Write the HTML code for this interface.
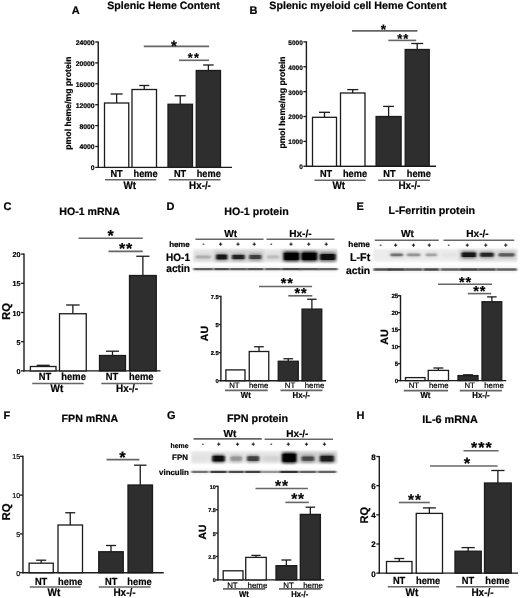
<!DOCTYPE html>
<html><head><meta charset="utf-8"><style>
html,body{margin:0;padding:0;background:#fff;}
svg{display:block;font-family:"Liberation Sans", sans-serif;text-rendering:geometricPrecision;}
text{stroke:#000;stroke-width:0.2px;}
</style></head><body>
<svg width="520" height="598" viewBox="0 0 520 598">
<defs>
<filter id="bf" x="-30%" y="-100%" width="160%" height="300%"><feGaussianBlur stdDeviation="0.9 0.7"/></filter>
<filter id="bt" x="-30%" y="-100%" width="160%" height="300%"><feGaussianBlur stdDeviation="0.9 0.55"/></filter>
<filter id="bh" x="-30%" y="-100%" width="160%" height="300%"><feGaussianBlur stdDeviation="1.6 1.2"/></filter>
<filter id="gb" x="0" y="0" width="100%" height="100%"><feGaussianBlur stdDeviation="0.45"/></filter>
<filter id="bb" x="-5%" y="-30%" width="110%" height="160%"><feGaussianBlur stdDeviation="1.0"/></filter>
</defs>
<g filter="url(#gb)">
<rect width="520" height="598" fill="#fff"/>
<line x1="98.25" y1="41.40" x2="98.25" y2="168.00" stroke="#1a1a1a" stroke-width="1.4"/>
<line x1="97.65" y1="167.40" x2="232.00" y2="167.40" stroke="#1a1a1a" stroke-width="1.4"/>
<line x1="95.25" y1="167.40" x2="98.25" y2="167.40" stroke="#1a1a1a" stroke-width="1.3"/>
<text x="94.65" y="170.35" font-size="6.8" text-anchor="end" font-weight="bold" fill="#000" >0</text>
<line x1="95.25" y1="146.50" x2="98.25" y2="146.50" stroke="#1a1a1a" stroke-width="1.3"/>
<text x="94.65" y="149.45" font-size="6.8" text-anchor="end" font-weight="bold" fill="#000" >4000</text>
<line x1="95.25" y1="125.60" x2="98.25" y2="125.60" stroke="#1a1a1a" stroke-width="1.3"/>
<text x="94.65" y="128.55" font-size="6.8" text-anchor="end" font-weight="bold" fill="#000" >8000</text>
<line x1="95.25" y1="104.70" x2="98.25" y2="104.70" stroke="#1a1a1a" stroke-width="1.3"/>
<text x="94.65" y="107.65" font-size="6.8" text-anchor="end" font-weight="bold" fill="#000" >12000</text>
<line x1="95.25" y1="83.80" x2="98.25" y2="83.80" stroke="#1a1a1a" stroke-width="1.3"/>
<text x="94.65" y="86.75" font-size="6.8" text-anchor="end" font-weight="bold" fill="#000" >16000</text>
<line x1="95.25" y1="62.90" x2="98.25" y2="62.90" stroke="#1a1a1a" stroke-width="1.3"/>
<text x="94.65" y="65.85" font-size="6.8" text-anchor="end" font-weight="bold" fill="#000" >20000</text>
<line x1="95.25" y1="42.00" x2="98.25" y2="42.00" stroke="#1a1a1a" stroke-width="1.3"/>
<text x="94.65" y="44.95" font-size="6.8" text-anchor="end" font-weight="bold" fill="#000" >24000</text>
<line x1="116.62" y1="94.00" x2="116.62" y2="103.00" stroke="#1a1a1a" stroke-width="1.3"/>
<line x1="110.62" y1="94.00" x2="122.62" y2="94.00" stroke="#1a1a1a" stroke-width="1.3"/>
<rect x="104.50" y="103.00" width="24.25" height="64.40" fill="#fff" stroke="#1a1a1a" stroke-width="1.3"/>
<line x1="144.25" y1="85.50" x2="144.25" y2="89.50" stroke="#1a1a1a" stroke-width="1.3"/>
<line x1="139.25" y1="85.50" x2="149.25" y2="85.50" stroke="#1a1a1a" stroke-width="1.3"/>
<rect x="132.00" y="89.50" width="24.50" height="77.90" fill="#fff" stroke="#1a1a1a" stroke-width="1.3"/>
<line x1="180.25" y1="95.75" x2="180.25" y2="104.25" stroke="#1a1a1a" stroke-width="1.3"/>
<line x1="174.75" y1="95.75" x2="185.75" y2="95.75" stroke="#1a1a1a" stroke-width="1.3"/>
<rect x="168.00" y="104.25" width="24.50" height="63.15" fill="#2e2e2e" stroke="#1a1a1a" stroke-width="1.3"/>
<line x1="208.38" y1="65.00" x2="208.38" y2="70.50" stroke="#1a1a1a" stroke-width="1.3"/>
<line x1="203.12" y1="65.00" x2="213.62" y2="65.00" stroke="#1a1a1a" stroke-width="1.3"/>
<rect x="196.25" y="70.50" width="24.25" height="96.90" fill="#2e2e2e" stroke="#1a1a1a" stroke-width="1.3"/>
<line x1="143.75" y1="46.40" x2="209.00" y2="46.40" stroke="#666" stroke-width="1.6"/>
<text x="173.90" y="51.30" font-size="15" text-anchor="middle" font-weight="bold" fill="#000" >*</text>
<line x1="179.00" y1="60.30" x2="209.00" y2="60.30" stroke="#666" stroke-width="1.6"/>
<text x="190.25" y="62.03" font-size="12.8" text-anchor="middle" font-weight="bold" fill="#000" >*</text>
<text x="196.45" y="62.03" font-size="12.8" text-anchor="middle" font-weight="bold" fill="#000" >*</text>
<text transform="translate(116.50 176.90) scale(1 1.1)" font-size="9.2" text-anchor="middle" font-weight="bold" fill="#000" >NT</text>
<text transform="translate(145.60 176.90) scale(1 1.1)" font-size="9.2" text-anchor="middle" font-weight="bold" fill="#000" >heme</text>
<text transform="translate(180.00 176.90) scale(1 1.1)" font-size="9.2" text-anchor="middle" font-weight="bold" fill="#000" >NT</text>
<text transform="translate(208.75 176.90) scale(1 1.1)" font-size="9.2" text-anchor="middle" font-weight="bold" fill="#000" >heme</text>
<line x1="105.00" y1="179.75" x2="156.25" y2="179.75" stroke="#666" stroke-width="1.6"/>
<line x1="168.75" y1="179.75" x2="220.50" y2="179.75" stroke="#666" stroke-width="1.6"/>
<text transform="translate(129.70 188.80) scale(1 1.1)" font-size="9.8" text-anchor="middle" font-weight="bold" fill="#000" >Wt</text>
<text transform="translate(200.00 188.80) scale(1 1.1)" font-size="9.8" text-anchor="middle" font-weight="bold" fill="#000" >Hx-/-</text>
<text x="71.00" y="103.10" font-size="8.7" text-anchor="middle" font-weight="bold" fill="#000" transform="rotate(-90 71.0 103.1)">pmol heme/mg protein</text>
<line x1="306.40" y1="41.30" x2="306.40" y2="166.90" stroke="#1a1a1a" stroke-width="1.4"/>
<line x1="305.80" y1="166.30" x2="436.00" y2="166.30" stroke="#1a1a1a" stroke-width="1.4"/>
<line x1="303.40" y1="166.30" x2="306.40" y2="166.30" stroke="#1a1a1a" stroke-width="1.3"/>
<text x="302.80" y="169.14" font-size="6.5" text-anchor="end" font-weight="bold" fill="#000" >0</text>
<line x1="303.40" y1="141.42" x2="306.40" y2="141.42" stroke="#1a1a1a" stroke-width="1.3"/>
<text x="302.80" y="144.26" font-size="6.5" text-anchor="end" font-weight="bold" fill="#000" >1000</text>
<line x1="303.40" y1="116.54" x2="306.40" y2="116.54" stroke="#1a1a1a" stroke-width="1.3"/>
<text x="302.80" y="119.38" font-size="6.5" text-anchor="end" font-weight="bold" fill="#000" >2000</text>
<line x1="303.40" y1="91.66" x2="306.40" y2="91.66" stroke="#1a1a1a" stroke-width="1.3"/>
<text x="302.80" y="94.50" font-size="6.5" text-anchor="end" font-weight="bold" fill="#000" >3000</text>
<line x1="303.40" y1="66.78" x2="306.40" y2="66.78" stroke="#1a1a1a" stroke-width="1.3"/>
<text x="302.80" y="69.62" font-size="6.5" text-anchor="end" font-weight="bold" fill="#000" >4000</text>
<line x1="303.40" y1="41.90" x2="306.40" y2="41.90" stroke="#1a1a1a" stroke-width="1.3"/>
<text x="302.80" y="44.74" font-size="6.5" text-anchor="end" font-weight="bold" fill="#000" >5000</text>
<line x1="324.50" y1="112.30" x2="324.50" y2="117.30" stroke="#1a1a1a" stroke-width="1.3"/>
<line x1="319.00" y1="112.30" x2="330.00" y2="112.30" stroke="#1a1a1a" stroke-width="1.3"/>
<rect x="312.50" y="117.30" width="24.00" height="49.00" fill="#fff" stroke="#1a1a1a" stroke-width="1.3"/>
<line x1="352.75" y1="89.60" x2="352.75" y2="93.00" stroke="#1a1a1a" stroke-width="1.3"/>
<line x1="347.25" y1="89.60" x2="358.25" y2="89.60" stroke="#1a1a1a" stroke-width="1.3"/>
<rect x="340.50" y="93.00" width="24.50" height="73.30" fill="#fff" stroke="#1a1a1a" stroke-width="1.3"/>
<line x1="388.60" y1="106.40" x2="388.60" y2="116.50" stroke="#1a1a1a" stroke-width="1.3"/>
<line x1="383.10" y1="106.40" x2="394.10" y2="106.40" stroke="#1a1a1a" stroke-width="1.3"/>
<rect x="376.10" y="116.50" width="25.00" height="49.80" fill="#2e2e2e" stroke="#1a1a1a" stroke-width="1.3"/>
<line x1="417.20" y1="43.50" x2="417.20" y2="49.50" stroke="#1a1a1a" stroke-width="1.3"/>
<line x1="411.20" y1="43.50" x2="423.20" y2="43.50" stroke="#1a1a1a" stroke-width="1.3"/>
<rect x="405.20" y="49.50" width="24.00" height="116.80" fill="#2e2e2e" stroke="#1a1a1a" stroke-width="1.3"/>
<line x1="352.00" y1="30.90" x2="417.40" y2="30.90" stroke="#666" stroke-width="1.6"/>
<text x="383.50" y="33.59" font-size="13.5" text-anchor="middle" font-weight="bold" fill="#000" >*</text>
<line x1="388.30" y1="40.40" x2="416.20" y2="40.40" stroke="#666" stroke-width="1.6"/>
<text x="399.75" y="42.93" font-size="13" text-anchor="middle" font-weight="bold" fill="#000" >*</text>
<text x="405.85" y="42.93" font-size="13" text-anchor="middle" font-weight="bold" fill="#000" >*</text>
<text transform="translate(326.00 176.80) scale(1 1.1)" font-size="9.2" text-anchor="middle" font-weight="bold" fill="#000" >NT</text>
<text transform="translate(355.00 176.80) scale(1 1.1)" font-size="9.2" text-anchor="middle" font-weight="bold" fill="#000" >heme</text>
<text transform="translate(389.40 176.80) scale(1 1.1)" font-size="9.2" text-anchor="middle" font-weight="bold" fill="#000" >NT</text>
<text transform="translate(418.80 176.80) scale(1 1.1)" font-size="9.2" text-anchor="middle" font-weight="bold" fill="#000" >heme</text>
<line x1="314.40" y1="180.20" x2="365.60" y2="180.20" stroke="#666" stroke-width="1.6"/>
<line x1="378.10" y1="180.20" x2="429.90" y2="180.20" stroke="#666" stroke-width="1.6"/>
<text transform="translate(338.75 189.40) scale(1 1.1)" font-size="9.9" text-anchor="middle" font-weight="bold" fill="#000" >Wt</text>
<text transform="translate(409.40 189.40) scale(1 1.1)" font-size="9.9" text-anchor="middle" font-weight="bold" fill="#000" >Hx-/-</text>
<text x="285.20" y="102.45" font-size="8.6" text-anchor="middle" font-weight="bold" fill="#000" transform="rotate(-90 285.2 102.45)">pmol heme/mg protein</text>
<line x1="24.00" y1="253.50" x2="24.00" y2="371.50" stroke="#1a1a1a" stroke-width="1.4"/>
<line x1="23.40" y1="370.90" x2="160.50" y2="370.90" stroke="#1a1a1a" stroke-width="1.4"/>
<line x1="21.00" y1="370.90" x2="24.00" y2="370.90" stroke="#1a1a1a" stroke-width="1.3"/>
<text x="20.40" y="373.99" font-size="7.2" text-anchor="end" font-weight="bold" fill="#000" >0</text>
<line x1="21.00" y1="341.70" x2="24.00" y2="341.70" stroke="#1a1a1a" stroke-width="1.3"/>
<text x="20.40" y="344.79" font-size="7.2" text-anchor="end" font-weight="bold" fill="#000" >5</text>
<line x1="21.00" y1="312.50" x2="24.00" y2="312.50" stroke="#1a1a1a" stroke-width="1.3"/>
<text x="20.40" y="315.59" font-size="7.2" text-anchor="end" font-weight="bold" fill="#000" >10</text>
<line x1="21.00" y1="283.30" x2="24.00" y2="283.30" stroke="#1a1a1a" stroke-width="1.3"/>
<text x="20.40" y="286.39" font-size="7.2" text-anchor="end" font-weight="bold" fill="#000" >15</text>
<line x1="21.00" y1="254.10" x2="24.00" y2="254.10" stroke="#1a1a1a" stroke-width="1.3"/>
<text x="20.40" y="257.19" font-size="7.2" text-anchor="end" font-weight="bold" fill="#000" >20</text>
<line x1="43.20" y1="365.30" x2="43.20" y2="366.50" stroke="#1a1a1a" stroke-width="1.3"/>
<line x1="36.70" y1="365.30" x2="49.70" y2="365.30" stroke="#1a1a1a" stroke-width="1.3"/>
<rect x="30.40" y="366.50" width="25.60" height="4.40" fill="#fff" stroke="#1a1a1a" stroke-width="1.3"/>
<line x1="72.88" y1="305.00" x2="72.88" y2="313.75" stroke="#1a1a1a" stroke-width="1.3"/>
<line x1="66.12" y1="305.00" x2="79.62" y2="305.00" stroke="#1a1a1a" stroke-width="1.3"/>
<rect x="59.50" y="313.75" width="26.75" height="57.15" fill="#fff" stroke="#1a1a1a" stroke-width="1.3"/>
<line x1="112.50" y1="351.20" x2="112.50" y2="355.50" stroke="#1a1a1a" stroke-width="1.3"/>
<line x1="106.00" y1="351.20" x2="119.00" y2="351.20" stroke="#1a1a1a" stroke-width="1.3"/>
<rect x="99.50" y="355.50" width="26.00" height="15.40" fill="#2e2e2e" stroke="#1a1a1a" stroke-width="1.3"/>
<line x1="142.88" y1="256.25" x2="142.88" y2="275.50" stroke="#1a1a1a" stroke-width="1.3"/>
<line x1="136.25" y1="256.25" x2="149.50" y2="256.25" stroke="#1a1a1a" stroke-width="1.3"/>
<rect x="129.50" y="275.50" width="26.75" height="95.40" fill="#2e2e2e" stroke="#1a1a1a" stroke-width="1.3"/>
<line x1="78.50" y1="238.30" x2="142.80" y2="238.30" stroke="#666" stroke-width="1.6"/>
<text x="110.70" y="241.36" font-size="16" text-anchor="middle" font-weight="bold" fill="#000" >*</text>
<line x1="108.50" y1="251.40" x2="142.80" y2="251.40" stroke="#666" stroke-width="1.6"/>
<text x="122.00" y="254.26" font-size="16" text-anchor="middle" font-weight="bold" fill="#000" >*</text>
<text x="129.00" y="254.26" font-size="16" text-anchor="middle" font-weight="bold" fill="#000" >*</text>
<text transform="translate(45.00 380.10) scale(1 1.1)" font-size="9.4" text-anchor="middle" font-weight="bold" fill="#000" >NT</text>
<text transform="translate(73.60 380.10) scale(1 1.1)" font-size="9.4" text-anchor="middle" font-weight="bold" fill="#000" >heme</text>
<text transform="translate(112.00 380.10) scale(1 1.1)" font-size="9.4" text-anchor="middle" font-weight="bold" fill="#000" >NT</text>
<text transform="translate(141.25 380.10) scale(1 1.1)" font-size="9.4" text-anchor="middle" font-weight="bold" fill="#000" >heme</text>
<line x1="32.25" y1="383.50" x2="83.75" y2="383.50" stroke="#666" stroke-width="1.6"/>
<line x1="101.25" y1="383.50" x2="152.50" y2="383.50" stroke="#666" stroke-width="1.6"/>
<text transform="translate(56.90 392.20) scale(1 1.1)" font-size="9.9" text-anchor="middle" font-weight="bold" fill="#000" >Wt</text>
<text transform="translate(127.00 392.20) scale(1 1.1)" font-size="9.9" text-anchor="middle" font-weight="bold" fill="#000" >Hx-/-</text>
<text x="10.40" y="311.40" font-size="11.4" text-anchor="middle" font-weight="bold" fill="#000" transform="rotate(-90 10.4 311.4)">RQ</text>
<line x1="220.90" y1="295.80" x2="220.90" y2="381.35" stroke="#1a1a1a" stroke-width="1.4"/>
<line x1="220.30" y1="380.75" x2="326.25" y2="380.75" stroke="#1a1a1a" stroke-width="1.4"/>
<line x1="218.40" y1="380.75" x2="220.90" y2="380.75" stroke="#1a1a1a" stroke-width="1.3"/>
<text x="218.60" y="383.30" font-size="5.7" text-anchor="end" font-weight="bold" fill="#000" >0</text>
<line x1="218.40" y1="352.63" x2="220.90" y2="352.63" stroke="#1a1a1a" stroke-width="1.3"/>
<text x="218.60" y="355.19" font-size="5.7" text-anchor="end" font-weight="bold" fill="#000" >2.5</text>
<line x1="218.40" y1="324.52" x2="220.90" y2="324.52" stroke="#1a1a1a" stroke-width="1.3"/>
<text x="218.60" y="327.07" font-size="5.7" text-anchor="end" font-weight="bold" fill="#000" >5</text>
<line x1="218.40" y1="296.40" x2="220.90" y2="296.40" stroke="#1a1a1a" stroke-width="1.3"/>
<text x="218.60" y="298.95" font-size="5.7" text-anchor="end" font-weight="bold" fill="#000" >7.5</text>
<rect x="225.90" y="369.90" width="19.10" height="10.85" fill="#fff" stroke="#1a1a1a" stroke-width="1.3"/>
<line x1="259.00" y1="346.75" x2="259.00" y2="351.50" stroke="#1a1a1a" stroke-width="1.3"/>
<line x1="254.25" y1="346.75" x2="263.75" y2="346.75" stroke="#1a1a1a" stroke-width="1.3"/>
<rect x="249.25" y="351.50" width="19.50" height="29.25" fill="#fff" stroke="#1a1a1a" stroke-width="1.3"/>
<line x1="288.25" y1="358.75" x2="288.25" y2="361.25" stroke="#1a1a1a" stroke-width="1.3"/>
<line x1="283.38" y1="358.75" x2="293.12" y2="358.75" stroke="#1a1a1a" stroke-width="1.3"/>
<rect x="278.25" y="361.25" width="20.00" height="19.50" fill="#2e2e2e" stroke="#1a1a1a" stroke-width="1.3"/>
<line x1="311.90" y1="299.25" x2="311.90" y2="309.10" stroke="#1a1a1a" stroke-width="1.3"/>
<line x1="307.15" y1="299.25" x2="316.65" y2="299.25" stroke="#1a1a1a" stroke-width="1.3"/>
<rect x="302.05" y="309.10" width="19.70" height="71.65" fill="#2e2e2e" stroke="#1a1a1a" stroke-width="1.3"/>
<line x1="259.00" y1="286.50" x2="312.10" y2="286.50" stroke="#666" stroke-width="1.6"/>
<text x="283.60" y="288.39" font-size="14.5" text-anchor="middle" font-weight="bold" fill="#000" >*</text>
<text x="290.10" y="288.39" font-size="14.5" text-anchor="middle" font-weight="bold" fill="#000" >*</text>
<line x1="288.30" y1="295.80" x2="312.30" y2="295.80" stroke="#666" stroke-width="1.6"/>
<text x="297.25" y="298.39" font-size="14.5" text-anchor="middle" font-weight="bold" fill="#000" >*</text>
<text x="303.75" y="298.39" font-size="14.5" text-anchor="middle" font-weight="bold" fill="#000" >*</text>
<text x="234.40" y="388.20" font-size="7.8" text-anchor="middle" font-weight="normal" fill="#000" >NT</text>
<text x="258.70" y="388.20" font-size="7.8" text-anchor="middle" font-weight="normal" fill="#000" >heme</text>
<text x="290.00" y="388.20" font-size="7.8" text-anchor="middle" font-weight="normal" fill="#000" >NT</text>
<text x="314.50" y="388.20" font-size="7.8" text-anchor="middle" font-weight="normal" fill="#000" >heme</text>
<line x1="225.00" y1="390.40" x2="267.75" y2="390.40" stroke="#666" stroke-width="1.6"/>
<line x1="280.50" y1="390.40" x2="322.50" y2="390.40" stroke="#666" stroke-width="1.6"/>
<text transform="translate(245.80 398.00) scale(1 1.1)" font-size="7.8" text-anchor="middle" font-weight="bold" fill="#000" >Wt</text>
<text transform="translate(301.25 398.00) scale(1 1.1)" font-size="7.8" text-anchor="middle" font-weight="bold" fill="#000" >Hx-/-</text>
<text x="208.50" y="333.55" font-size="10.5" text-anchor="middle" font-weight="bold" fill="#000" transform="rotate(-90 208.5 333.55)">AU</text>
<line x1="400.50" y1="295.10" x2="400.50" y2="381.20" stroke="#1a1a1a" stroke-width="1.4"/>
<line x1="399.90" y1="380.60" x2="506.25" y2="380.60" stroke="#1a1a1a" stroke-width="1.4"/>
<line x1="398.00" y1="380.60" x2="400.50" y2="380.60" stroke="#1a1a1a" stroke-width="1.3"/>
<text x="398.20" y="383.30" font-size="6.1" text-anchor="end" font-weight="bold" fill="#000" >0</text>
<line x1="398.00" y1="363.62" x2="400.50" y2="363.62" stroke="#1a1a1a" stroke-width="1.3"/>
<text x="398.20" y="366.32" font-size="6.1" text-anchor="end" font-weight="bold" fill="#000" >5</text>
<line x1="398.00" y1="346.64" x2="400.50" y2="346.64" stroke="#1a1a1a" stroke-width="1.3"/>
<text x="398.20" y="349.34" font-size="6.1" text-anchor="end" font-weight="bold" fill="#000" >10</text>
<line x1="398.00" y1="329.66" x2="400.50" y2="329.66" stroke="#1a1a1a" stroke-width="1.3"/>
<text x="398.20" y="332.36" font-size="6.1" text-anchor="end" font-weight="bold" fill="#000" >15</text>
<line x1="398.00" y1="312.68" x2="400.50" y2="312.68" stroke="#1a1a1a" stroke-width="1.3"/>
<text x="398.20" y="315.38" font-size="6.1" text-anchor="end" font-weight="bold" fill="#000" >20</text>
<line x1="398.00" y1="295.70" x2="400.50" y2="295.70" stroke="#1a1a1a" stroke-width="1.3"/>
<text x="398.20" y="298.40" font-size="6.1" text-anchor="end" font-weight="bold" fill="#000" >25</text>
<rect x="405.50" y="377.60" width="19.50" height="3.00" fill="#fff" stroke="#1a1a1a" stroke-width="1.3"/>
<line x1="438.38" y1="368.00" x2="438.38" y2="370.40" stroke="#1a1a1a" stroke-width="1.3"/>
<line x1="433.38" y1="368.00" x2="443.38" y2="368.00" stroke="#1a1a1a" stroke-width="1.3"/>
<rect x="428.25" y="370.40" width="20.25" height="10.20" fill="#fff" stroke="#1a1a1a" stroke-width="1.3"/>
<line x1="468.00" y1="374.80" x2="468.00" y2="375.60" stroke="#1a1a1a" stroke-width="1.3"/>
<line x1="463.00" y1="374.80" x2="473.00" y2="374.80" stroke="#1a1a1a" stroke-width="1.3"/>
<rect x="458.00" y="375.60" width="20.00" height="5.00" fill="#2e2e2e" stroke="#1a1a1a" stroke-width="1.3"/>
<line x1="491.88" y1="296.90" x2="491.88" y2="301.75" stroke="#1a1a1a" stroke-width="1.3"/>
<line x1="487.12" y1="296.90" x2="496.62" y2="296.90" stroke="#1a1a1a" stroke-width="1.3"/>
<rect x="482.00" y="301.75" width="19.75" height="78.85" fill="#2e2e2e" stroke="#1a1a1a" stroke-width="1.3"/>
<line x1="438.00" y1="284.20" x2="492.10" y2="284.20" stroke="#666" stroke-width="1.6"/>
<text x="461.85" y="286.50" font-size="14.5" text-anchor="middle" font-weight="bold" fill="#000" >*</text>
<text x="468.45" y="286.50" font-size="14.5" text-anchor="middle" font-weight="bold" fill="#000" >*</text>
<line x1="467.80" y1="293.60" x2="491.20" y2="293.60" stroke="#666" stroke-width="1.6"/>
<text x="476.00" y="296.39" font-size="14.5" text-anchor="middle" font-weight="bold" fill="#000" >*</text>
<text x="482.50" y="296.39" font-size="14.5" text-anchor="middle" font-weight="bold" fill="#000" >*</text>
<text x="413.90" y="388.30" font-size="7.8" text-anchor="middle" font-weight="normal" fill="#000" >NT</text>
<text x="438.75" y="388.30" font-size="7.8" text-anchor="middle" font-weight="normal" fill="#000" >heme</text>
<text x="469.70" y="388.30" font-size="7.8" text-anchor="middle" font-weight="normal" fill="#000" >NT</text>
<text x="494.00" y="388.30" font-size="7.8" text-anchor="middle" font-weight="normal" fill="#000" >heme</text>
<line x1="403.75" y1="390.60" x2="448.00" y2="390.60" stroke="#666" stroke-width="1.6"/>
<line x1="459.75" y1="390.60" x2="501.90" y2="390.60" stroke="#666" stroke-width="1.6"/>
<text transform="translate(425.50 398.00) scale(1 1.1)" font-size="7.8" text-anchor="middle" font-weight="bold" fill="#000" >Wt</text>
<text transform="translate(481.00 398.00) scale(1 1.1)" font-size="7.8" text-anchor="middle" font-weight="bold" fill="#000" >Hx-/-</text>
<text x="387.60" y="336.90" font-size="10.7" text-anchor="middle" font-weight="bold" fill="#000" transform="rotate(-90 387.6 336.9)">AU</text>
<line x1="22.95" y1="455.70" x2="22.95" y2="573.30" stroke="#1a1a1a" stroke-width="1.4"/>
<line x1="22.35" y1="572.70" x2="163.75" y2="572.70" stroke="#1a1a1a" stroke-width="1.4"/>
<line x1="19.95" y1="572.70" x2="22.95" y2="572.70" stroke="#1a1a1a" stroke-width="1.3"/>
<text x="20.25" y="575.76" font-size="7.1" text-anchor="end" font-weight="normal" fill="#000" >0</text>
<line x1="19.95" y1="533.90" x2="22.95" y2="533.90" stroke="#1a1a1a" stroke-width="1.3"/>
<text x="20.25" y="536.96" font-size="7.1" text-anchor="end" font-weight="normal" fill="#000" >5</text>
<line x1="19.95" y1="495.10" x2="22.95" y2="495.10" stroke="#1a1a1a" stroke-width="1.3"/>
<text x="20.25" y="498.16" font-size="7.1" text-anchor="end" font-weight="normal" fill="#000" >10</text>
<line x1="19.95" y1="456.30" x2="22.95" y2="456.30" stroke="#1a1a1a" stroke-width="1.3"/>
<text x="20.25" y="459.36" font-size="7.1" text-anchor="end" font-weight="normal" fill="#000" >15</text>
<line x1="41.17" y1="560.20" x2="41.17" y2="563.20" stroke="#1a1a1a" stroke-width="1.3"/>
<line x1="36.17" y1="560.20" x2="46.17" y2="560.20" stroke="#1a1a1a" stroke-width="1.3"/>
<rect x="29.10" y="563.20" width="24.15" height="9.50" fill="#fff" stroke="#1a1a1a" stroke-width="1.3"/>
<line x1="70.25" y1="512.75" x2="70.25" y2="525.00" stroke="#1a1a1a" stroke-width="1.3"/>
<line x1="65.25" y1="512.75" x2="75.25" y2="512.75" stroke="#1a1a1a" stroke-width="1.3"/>
<rect x="58.00" y="525.00" width="24.50" height="47.70" fill="#fff" stroke="#1a1a1a" stroke-width="1.3"/>
<line x1="111.00" y1="545.50" x2="111.00" y2="551.75" stroke="#1a1a1a" stroke-width="1.3"/>
<line x1="106.00" y1="545.50" x2="116.00" y2="545.50" stroke="#1a1a1a" stroke-width="1.3"/>
<rect x="98.75" y="551.75" width="24.50" height="20.95" fill="#2e2e2e" stroke="#1a1a1a" stroke-width="1.3"/>
<line x1="140.25" y1="465.20" x2="140.25" y2="485.00" stroke="#1a1a1a" stroke-width="1.3"/>
<line x1="134.00" y1="465.20" x2="146.50" y2="465.20" stroke="#1a1a1a" stroke-width="1.3"/>
<rect x="128.00" y="485.00" width="24.50" height="87.70" fill="#2e2e2e" stroke="#1a1a1a" stroke-width="1.3"/>
<line x1="106.50" y1="459.60" x2="139.40" y2="459.60" stroke="#666" stroke-width="1.6"/>
<text x="122.50" y="462.52" font-size="16.5" text-anchor="middle" font-weight="bold" fill="#000" >*</text>
<text transform="translate(41.10 584.60) scale(1 1.1)" font-size="9.3" text-anchor="middle" font-weight="bold" fill="#000" >NT</text>
<text transform="translate(70.20 584.60) scale(1 1.1)" font-size="9.3" text-anchor="middle" font-weight="bold" fill="#000" >heme</text>
<text transform="translate(111.25 584.60) scale(1 1.1)" font-size="9.3" text-anchor="middle" font-weight="bold" fill="#000" >NT</text>
<text transform="translate(139.50 584.60) scale(1 1.1)" font-size="9.3" text-anchor="middle" font-weight="bold" fill="#000" >heme</text>
<line x1="29.75" y1="587.00" x2="80.60" y2="587.00" stroke="#666" stroke-width="1.6"/>
<line x1="98.75" y1="587.00" x2="150.50" y2="587.00" stroke="#666" stroke-width="1.6"/>
<text transform="translate(53.90 596.40) scale(1 1.1)" font-size="10" text-anchor="middle" font-weight="bold" fill="#000" >Wt</text>
<text transform="translate(124.50 596.40) scale(1 1.1)" font-size="10" text-anchor="middle" font-weight="bold" fill="#000" >Hx-/-</text>
<text x="10.40" y="511.90" font-size="11.4" text-anchor="middle" font-weight="bold" fill="#000" transform="rotate(-90 10.4 511.9)">RQ</text>
<line x1="218.00" y1="485.70" x2="218.00" y2="580.50" stroke="#1a1a1a" stroke-width="1.4"/>
<line x1="217.40" y1="579.90" x2="324.20" y2="579.90" stroke="#1a1a1a" stroke-width="1.4"/>
<line x1="215.50" y1="579.90" x2="218.00" y2="579.90" stroke="#1a1a1a" stroke-width="1.3"/>
<text x="215.70" y="582.34" font-size="5.4" text-anchor="end" font-weight="bold" fill="#000" >0</text>
<line x1="215.50" y1="556.50" x2="218.00" y2="556.50" stroke="#1a1a1a" stroke-width="1.3"/>
<text x="215.70" y="558.94" font-size="5.4" text-anchor="end" font-weight="bold" fill="#000" >2.5</text>
<line x1="215.50" y1="533.10" x2="218.00" y2="533.10" stroke="#1a1a1a" stroke-width="1.3"/>
<text x="215.70" y="535.54" font-size="5.4" text-anchor="end" font-weight="bold" fill="#000" >5</text>
<line x1="215.50" y1="509.70" x2="218.00" y2="509.70" stroke="#1a1a1a" stroke-width="1.3"/>
<text x="215.70" y="512.14" font-size="5.4" text-anchor="end" font-weight="bold" fill="#000" >7.5</text>
<line x1="215.50" y1="486.30" x2="218.00" y2="486.30" stroke="#1a1a1a" stroke-width="1.3"/>
<text x="215.70" y="488.74" font-size="5.4" text-anchor="end" font-weight="bold" fill="#000" >10</text>
<rect x="223.20" y="570.80" width="19.80" height="9.10" fill="#fff" stroke="#1a1a1a" stroke-width="1.3"/>
<line x1="256.00" y1="555.40" x2="256.00" y2="557.40" stroke="#1a1a1a" stroke-width="1.3"/>
<line x1="251.38" y1="555.40" x2="260.62" y2="555.40" stroke="#1a1a1a" stroke-width="1.3"/>
<rect x="245.75" y="557.40" width="20.50" height="22.50" fill="#fff" stroke="#1a1a1a" stroke-width="1.3"/>
<line x1="286.38" y1="560.00" x2="286.38" y2="565.70" stroke="#1a1a1a" stroke-width="1.3"/>
<line x1="281.38" y1="560.00" x2="291.38" y2="560.00" stroke="#1a1a1a" stroke-width="1.3"/>
<rect x="276.00" y="565.70" width="20.75" height="14.20" fill="#2e2e2e" stroke="#1a1a1a" stroke-width="1.3"/>
<line x1="310.35" y1="507.20" x2="310.35" y2="514.40" stroke="#1a1a1a" stroke-width="1.3"/>
<line x1="305.60" y1="507.20" x2="315.10" y2="507.20" stroke="#1a1a1a" stroke-width="1.3"/>
<rect x="300.30" y="514.40" width="20.10" height="65.50" fill="#2e2e2e" stroke="#1a1a1a" stroke-width="1.3"/>
<line x1="255.50" y1="488.50" x2="307.80" y2="488.50" stroke="#666" stroke-width="1.6"/>
<text x="278.10" y="490.90" font-size="15.5" text-anchor="middle" font-weight="bold" fill="#000" >*</text>
<text x="285.10" y="490.90" font-size="15.5" text-anchor="middle" font-weight="bold" fill="#000" >*</text>
<line x1="285.40" y1="502.40" x2="308.75" y2="502.40" stroke="#666" stroke-width="1.6"/>
<text x="294.25" y="504.30" font-size="15.5" text-anchor="middle" font-weight="bold" fill="#000" >*</text>
<text x="301.05" y="504.30" font-size="15.5" text-anchor="middle" font-weight="bold" fill="#000" >*</text>
<text x="232.45" y="587.90" font-size="7.9" text-anchor="middle" font-weight="normal" fill="#000" >NT</text>
<text x="257.45" y="587.90" font-size="7.9" text-anchor="middle" font-weight="normal" fill="#000" >heme</text>
<text x="288.60" y="587.90" font-size="7.9" text-anchor="middle" font-weight="normal" fill="#000" >NT</text>
<text x="313.10" y="587.90" font-size="7.9" text-anchor="middle" font-weight="normal" fill="#000" >heme</text>
<line x1="223.00" y1="588.90" x2="265.25" y2="588.90" stroke="#666" stroke-width="1.6"/>
<line x1="279.00" y1="588.90" x2="320.75" y2="588.90" stroke="#666" stroke-width="1.6"/>
<text transform="translate(243.90 596.50) scale(1 1.1)" font-size="7.7" text-anchor="middle" font-weight="bold" fill="#000" >Wt</text>
<text transform="translate(299.70 596.50) scale(1 1.1)" font-size="7.7" text-anchor="middle" font-weight="bold" fill="#000" >Hx-/-</text>
<text x="206.50" y="531.90" font-size="10.4" text-anchor="middle" font-weight="bold" fill="#000" transform="rotate(-90 206.5 531.9)">AU</text>
<line x1="379.30" y1="455.90" x2="379.30" y2="573.75" stroke="#1a1a1a" stroke-width="1.4"/>
<line x1="378.70" y1="573.15" x2="518.00" y2="573.15" stroke="#1a1a1a" stroke-width="1.4"/>
<line x1="376.30" y1="573.15" x2="379.30" y2="573.15" stroke="#1a1a1a" stroke-width="1.3"/>
<text x="375.70" y="576.53" font-size="8" text-anchor="end" font-weight="bold" fill="#000" >0</text>
<line x1="376.30" y1="543.99" x2="379.30" y2="543.99" stroke="#1a1a1a" stroke-width="1.3"/>
<text x="375.70" y="547.37" font-size="8" text-anchor="end" font-weight="bold" fill="#000" >2</text>
<line x1="376.30" y1="514.83" x2="379.30" y2="514.83" stroke="#1a1a1a" stroke-width="1.3"/>
<text x="375.70" y="518.21" font-size="8" text-anchor="end" font-weight="bold" fill="#000" >4</text>
<line x1="376.30" y1="485.66" x2="379.30" y2="485.66" stroke="#1a1a1a" stroke-width="1.3"/>
<text x="375.70" y="489.04" font-size="8" text-anchor="end" font-weight="bold" fill="#000" >6</text>
<line x1="376.30" y1="456.50" x2="379.30" y2="456.50" stroke="#1a1a1a" stroke-width="1.3"/>
<text x="375.70" y="459.88" font-size="8" text-anchor="end" font-weight="bold" fill="#000" >8</text>
<line x1="399.25" y1="558.50" x2="399.25" y2="561.50" stroke="#1a1a1a" stroke-width="1.3"/>
<line x1="394.25" y1="558.50" x2="404.25" y2="558.50" stroke="#1a1a1a" stroke-width="1.3"/>
<rect x="386.50" y="561.50" width="25.50" height="11.65" fill="#fff" stroke="#1a1a1a" stroke-width="1.3"/>
<line x1="429.38" y1="507.90" x2="429.38" y2="513.40" stroke="#1a1a1a" stroke-width="1.3"/>
<line x1="422.88" y1="507.90" x2="435.88" y2="507.90" stroke="#1a1a1a" stroke-width="1.3"/>
<rect x="416.25" y="513.40" width="26.25" height="59.75" fill="#fff" stroke="#1a1a1a" stroke-width="1.3"/>
<line x1="468.12" y1="547.60" x2="468.12" y2="551.20" stroke="#1a1a1a" stroke-width="1.3"/>
<line x1="461.50" y1="547.60" x2="474.75" y2="547.60" stroke="#1a1a1a" stroke-width="1.3"/>
<rect x="455.00" y="551.20" width="26.25" height="21.95" fill="#2e2e2e" stroke="#1a1a1a" stroke-width="1.3"/>
<line x1="497.88" y1="470.50" x2="497.88" y2="483.00" stroke="#1a1a1a" stroke-width="1.3"/>
<line x1="491.25" y1="470.50" x2="504.50" y2="470.50" stroke="#1a1a1a" stroke-width="1.3"/>
<rect x="484.50" y="483.00" width="26.75" height="90.15" fill="#2e2e2e" stroke="#1a1a1a" stroke-width="1.3"/>
<line x1="398.80" y1="502.50" x2="429.80" y2="502.50" stroke="#666" stroke-width="1.6"/>
<text x="411.00" y="505.10" font-size="15.5" text-anchor="middle" font-weight="bold" fill="#000" >*</text>
<text x="418.00" y="505.10" font-size="15.5" text-anchor="middle" font-weight="bold" fill="#000" >*</text>
<line x1="430.10" y1="466.00" x2="497.60" y2="466.00" stroke="#666" stroke-width="1.6"/>
<text x="467.00" y="469.12" font-size="16.5" text-anchor="middle" font-weight="bold" fill="#000" >*</text>
<line x1="463.50" y1="450.80" x2="498.60" y2="450.80" stroke="#666" stroke-width="1.6"/>
<text x="474.10" y="453.46" font-size="16" text-anchor="middle" font-weight="bold" fill="#000" >*</text>
<text x="481.30" y="453.46" font-size="16" text-anchor="middle" font-weight="bold" fill="#000" >*</text>
<text x="488.50" y="453.46" font-size="16" text-anchor="middle" font-weight="bold" fill="#000" >*</text>
<text transform="translate(399.10 584.00) scale(1 1.1)" font-size="9.3" text-anchor="middle" font-weight="bold" fill="#000" >NT</text>
<text transform="translate(428.10 584.00) scale(1 1.1)" font-size="9.3" text-anchor="middle" font-weight="bold" fill="#000" >heme</text>
<text transform="translate(468.00 584.00) scale(1 1.1)" font-size="9.3" text-anchor="middle" font-weight="bold" fill="#000" >NT</text>
<text transform="translate(497.50 584.00) scale(1 1.1)" font-size="9.3" text-anchor="middle" font-weight="bold" fill="#000" >heme</text>
<line x1="387.75" y1="586.75" x2="439.00" y2="586.75" stroke="#666" stroke-width="1.6"/>
<line x1="456.25" y1="586.75" x2="508.75" y2="586.75" stroke="#666" stroke-width="1.6"/>
<text transform="translate(411.90 596.20) scale(1 1.1)" font-size="10" text-anchor="middle" font-weight="bold" fill="#000" >Wt</text>
<text transform="translate(482.50 596.20) scale(1 1.1)" font-size="10" text-anchor="middle" font-weight="bold" fill="#000" >Hx-/-</text>
<text x="367.70" y="515.20" font-size="11.2" text-anchor="middle" font-weight="bold" fill="#000" transform="rotate(-90 367.7 515.2)">RQ</text>
<text x="71.80" y="14.35" font-size="11" text-anchor="start" font-weight="bold" fill="#000" >A</text>
<text x="249.50" y="14.00" font-size="11" text-anchor="start" font-weight="bold" fill="#000" >B</text>
<text x="3.40" y="210.40" font-size="11" text-anchor="start" font-weight="bold" fill="#000" >C</text>
<text x="166.60" y="210.40" font-size="11" text-anchor="start" font-weight="bold" fill="#000" >D</text>
<text x="356.60" y="210.40" font-size="11" text-anchor="start" font-weight="bold" fill="#000" >E</text>
<text x="3.60" y="419.40" font-size="11" text-anchor="start" font-weight="bold" fill="#000" >F</text>
<text x="166.90" y="419.40" font-size="11" text-anchor="start" font-weight="bold" fill="#000" >G</text>
<text x="356.60" y="419.40" font-size="11" text-anchor="start" font-weight="bold" fill="#000" >H</text>
<text x="107.30" y="9.20" font-size="10.6" text-anchor="start" font-weight="bold" fill="#000" >Splenic Heme Content</text>
<text x="269.30" y="9.20" font-size="10.68" text-anchor="start" font-weight="bold" fill="#000" >Splenic myeloid cell Heme Content</text>
<text x="59.30" y="214.80" font-size="10.6" text-anchor="start" font-weight="bold" fill="#000" >HO-1 mRNA</text>
<text x="224.30" y="215.20" font-size="10.65" text-anchor="start" font-weight="bold" fill="#000" >HO-1 protein</text>
<text x="388.60" y="214.30" font-size="10.75" text-anchor="start" font-weight="bold" fill="#000" >L-Ferritin protein</text>
<text x="61.60" y="422.20" font-size="10.6" text-anchor="start" font-weight="bold" fill="#000" >FPN mRNA</text>
<text x="227.00" y="421.80" font-size="10.8" text-anchor="start" font-weight="bold" fill="#000" >FPN protein</text>
<text x="422.30" y="422.80" font-size="10.85" text-anchor="start" font-weight="bold" fill="#000" >IL-6 mRNA</text>
<rect x="193.00" y="249.30" width="144.00" height="13.00" rx="0" fill="rgb(228,228,228)" filter="url(#bb)"/>
<rect x="213.50" y="249.80" width="50.50" height="12.00" rx="0" fill="rgb(214,214,214)" filter="url(#bb)"/>
<rect x="281.50" y="249.80" width="55.50" height="12.00" rx="0" fill="rgb(205,205,205)" filter="url(#bb)"/>
<rect x="195.50" y="253.80" width="15.60" height="6.40" rx="2" fill="rgb(210,210,210)" filter="url(#bh)"/>
<rect x="196.00" y="255.40" width="14.60" height="3.20" rx="1.2" fill="rgb(175,175,175)" filter="url(#bf)"/>
<rect x="215.75" y="253.00" width="11.95" height="8.00" rx="2" fill="rgb(150,150,150)" filter="url(#bh)"/>
<rect x="216.25" y="254.60" width="10.95" height="4.80" rx="1.2" fill="rgb(25,25,25)" filter="url(#bf)"/>
<rect x="231.60" y="253.20" width="13.50" height="7.60" rx="2" fill="rgb(165,165,165)" filter="url(#bh)"/>
<rect x="232.10" y="254.80" width="12.50" height="4.40" rx="1.2" fill="rgb(35,35,35)" filter="url(#bf)"/>
<rect x="248.90" y="253.30" width="12.80" height="7.40" rx="2" fill="rgb(150,150,150)" filter="url(#bh)"/>
<rect x="249.40" y="254.90" width="11.80" height="4.20" rx="1.2" fill="rgb(60,60,60)" filter="url(#bf)"/>
<rect x="266.70" y="253.80" width="12.80" height="6.40" rx="2" fill="rgb(215,215,215)" filter="url(#bh)"/>
<rect x="267.20" y="255.40" width="11.80" height="3.20" rx="1.2" fill="rgb(190,190,190)" filter="url(#bf)"/>
<rect x="283.50" y="251.20" width="16.00" height="10.40" rx="2" fill="rgb(60,60,60)" filter="url(#bh)"/>
<rect x="284.00" y="252.80" width="15.00" height="7.20" rx="1.2" fill="rgb(5,5,5)" filter="url(#bf)"/>
<rect x="301.30" y="251.20" width="15.90" height="10.40" rx="2" fill="rgb(60,60,60)" filter="url(#bh)"/>
<rect x="301.80" y="252.80" width="14.90" height="7.20" rx="1.2" fill="rgb(5,5,5)" filter="url(#bf)"/>
<rect x="319.70" y="252.50" width="16.00" height="9.00" rx="2" fill="rgb(110,110,110)" filter="url(#bh)"/>
<rect x="320.20" y="254.10" width="15.00" height="5.80" rx="1.2" fill="rgb(15,15,15)" filter="url(#bf)"/>
<rect x="193.00" y="266.60" width="144.00" height="5.00" rx="0" fill="rgb(238,238,238)" filter="url(#bb)"/>
<rect x="193.50" y="268.10" width="19.60" height="2.20" rx="0.5" fill="rgb(95,95,95)" filter="url(#bt)"/>
<rect x="213.75" y="268.10" width="15.95" height="2.20" rx="0.5" fill="rgb(80,80,80)" filter="url(#bt)"/>
<rect x="229.60" y="268.10" width="17.50" height="2.20" rx="0.5" fill="rgb(95,95,95)" filter="url(#bt)"/>
<rect x="246.90" y="268.10" width="16.80" height="2.20" rx="0.5" fill="rgb(85,85,85)" filter="url(#bt)"/>
<rect x="264.70" y="268.10" width="16.80" height="2.20" rx="0.5" fill="rgb(100,100,100)" filter="url(#bt)"/>
<rect x="281.50" y="268.10" width="20.00" height="2.20" rx="0.5" fill="rgb(75,75,75)" filter="url(#bt)"/>
<rect x="299.30" y="268.10" width="19.90" height="2.20" rx="0.5" fill="rgb(90,90,90)" filter="url(#bt)"/>
<rect x="317.70" y="268.10" width="20.00" height="2.20" rx="0.5" fill="rgb(100,100,100)" filter="url(#bt)"/>
<rect x="373.00" y="249.00" width="144.00" height="12.50" rx="0" fill="rgb(236,236,236)" filter="url(#bb)"/>
<rect x="458.00" y="249.30" width="59.00" height="11.90" rx="0" fill="rgb(222,222,222)" filter="url(#bb)"/>
<rect x="375.50" y="252.40" width="13.00" height="4.80" rx="2" fill="rgb(236,236,236)" filter="url(#bh)"/>
<rect x="376.00" y="253.80" width="12.00" height="2.00" rx="1.2" fill="rgb(236,236,236)" filter="url(#bf)"/>
<rect x="390.00" y="252.00" width="13.40" height="5.60" rx="2" fill="rgb(200,200,200)" filter="url(#bh)"/>
<rect x="390.50" y="253.40" width="12.40" height="2.80" rx="1.2" fill="rgb(115,115,115)" filter="url(#bf)"/>
<rect x="406.50" y="252.00" width="14.20" height="5.60" rx="2" fill="rgb(210,210,210)" filter="url(#bh)"/>
<rect x="407.00" y="253.40" width="13.20" height="2.80" rx="1.2" fill="rgb(150,150,150)" filter="url(#bf)"/>
<rect x="425.30" y="252.00" width="12.00" height="5.60" rx="2" fill="rgb(215,215,215)" filter="url(#bh)"/>
<rect x="425.80" y="253.40" width="11.00" height="2.80" rx="1.2" fill="rgb(165,165,165)" filter="url(#bf)"/>
<rect x="442.50" y="252.40" width="15.00" height="4.80" rx="2" fill="rgb(228,228,228)" filter="url(#bh)"/>
<rect x="443.00" y="253.80" width="14.00" height="2.00" rx="1.2" fill="rgb(228,228,228)" filter="url(#bf)"/>
<rect x="461.30" y="251.10" width="15.10" height="7.40" rx="2" fill="rgb(120,120,120)" filter="url(#bh)"/>
<rect x="461.80" y="252.50" width="14.10" height="4.60" rx="1.2" fill="rgb(25,25,25)" filter="url(#bf)"/>
<rect x="479.70" y="251.40" width="14.40" height="6.80" rx="2" fill="rgb(150,150,150)" filter="url(#bh)"/>
<rect x="480.20" y="252.80" width="13.40" height="4.00" rx="1.2" fill="rgb(40,40,40)" filter="url(#bf)"/>
<rect x="498.20" y="251.80" width="16.70" height="6.00" rx="2" fill="rgb(180,180,180)" filter="url(#bh)"/>
<rect x="498.70" y="253.20" width="15.70" height="3.20" rx="1.2" fill="rgb(90,90,90)" filter="url(#bf)"/>
<rect x="373.00" y="266.60" width="144.00" height="5.80" rx="0" fill="rgb(240,240,240)" filter="url(#bb)"/>
<rect x="373.50" y="268.30" width="17.00" height="2.40" rx="0.5" fill="rgb(80,80,80)" filter="url(#bt)"/>
<rect x="388.00" y="268.30" width="17.40" height="2.40" rx="0.5" fill="rgb(60,60,60)" filter="url(#bt)"/>
<rect x="404.50" y="268.30" width="18.20" height="2.40" rx="0.5" fill="rgb(90,90,90)" filter="url(#bt)"/>
<rect x="423.30" y="268.30" width="16.00" height="2.40" rx="0.5" fill="rgb(70,70,70)" filter="url(#bt)"/>
<rect x="440.50" y="268.30" width="19.00" height="2.40" rx="0.5" fill="rgb(95,95,95)" filter="url(#bt)"/>
<rect x="459.30" y="268.30" width="19.10" height="2.40" rx="0.5" fill="rgb(65,65,65)" filter="url(#bt)"/>
<rect x="477.70" y="268.30" width="18.40" height="2.40" rx="0.5" fill="rgb(80,80,80)" filter="url(#bt)"/>
<rect x="496.20" y="268.30" width="20.70" height="2.40" rx="0.5" fill="rgb(95,95,95)" filter="url(#bt)"/>
<rect x="191.00" y="451.30" width="146.00" height="12.00" rx="0" fill="rgb(230,230,230)" filter="url(#bb)"/>
<rect x="281.00" y="451.60" width="56.00" height="11.40" rx="0" fill="rgb(210,210,210)" filter="url(#bb)"/>
<rect x="193.50" y="455.50" width="13.00" height="6.20" rx="2" fill="rgb(228,228,228)" filter="url(#bh)"/>
<rect x="194.00" y="457.10" width="12.00" height="3.00" rx="1.2" fill="rgb(225,225,225)" filter="url(#bf)"/>
<rect x="212.10" y="454.20" width="12.80" height="8.80" rx="2" fill="rgb(120,120,120)" filter="url(#bh)"/>
<rect x="212.60" y="455.80" width="11.80" height="5.60" rx="1.2" fill="rgb(15,15,15)" filter="url(#bf)"/>
<rect x="230.20" y="454.80" width="12.00" height="7.60" rx="2" fill="rgb(190,190,190)" filter="url(#bh)"/>
<rect x="230.70" y="456.40" width="11.00" height="4.40" rx="1.2" fill="rgb(150,150,150)" filter="url(#bf)"/>
<rect x="246.80" y="454.70" width="12.70" height="7.80" rx="2" fill="rgb(150,150,150)" filter="url(#bh)"/>
<rect x="247.30" y="456.30" width="11.70" height="4.60" rx="1.2" fill="rgb(65,65,65)" filter="url(#bf)"/>
<rect x="262.80" y="455.00" width="16.70" height="7.20" rx="2" fill="rgb(220,220,220)" filter="url(#bh)"/>
<rect x="263.30" y="456.60" width="15.70" height="4.00" rx="1.2" fill="rgb(212,212,212)" filter="url(#bf)"/>
<rect x="282.00" y="452.20" width="14.50" height="11.20" rx="2" fill="rgb(60,60,60)" filter="url(#bh)"/>
<rect x="282.50" y="453.80" width="13.50" height="8.00" rx="1.2" fill="rgb(5,5,5)" filter="url(#bf)"/>
<rect x="301.30" y="454.80" width="13.20" height="7.60" rx="2" fill="rgb(150,150,150)" filter="url(#bh)"/>
<rect x="301.80" y="456.40" width="12.20" height="4.40" rx="1.2" fill="rgb(70,70,70)" filter="url(#bf)"/>
<rect x="319.70" y="454.20" width="14.40" height="8.80" rx="2" fill="rgb(120,120,120)" filter="url(#bh)"/>
<rect x="320.20" y="455.80" width="13.40" height="5.60" rx="1.2" fill="rgb(30,30,30)" filter="url(#bf)"/>
<rect x="191.00" y="469.20" width="146.00" height="5.20" rx="0" fill="rgb(242,242,242)" filter="url(#bb)"/>
<rect x="191.50" y="470.75" width="17.00" height="2.30" rx="0.5" fill="rgb(115,115,115)" filter="url(#bt)"/>
<rect x="210.10" y="470.75" width="16.80" height="2.30" rx="0.5" fill="rgb(60,60,60)" filter="url(#bt)"/>
<rect x="228.20" y="470.75" width="16.00" height="2.30" rx="0.5" fill="rgb(75,75,75)" filter="url(#bt)"/>
<rect x="244.80" y="470.75" width="16.70" height="2.30" rx="0.5" fill="rgb(65,65,65)" filter="url(#bt)"/>
<rect x="260.80" y="470.75" width="20.70" height="2.30" rx="0.5" fill="rgb(150,150,150)" filter="url(#bt)"/>
<rect x="280.00" y="470.75" width="18.50" height="2.30" rx="0.5" fill="rgb(50,50,50)" filter="url(#bt)"/>
<rect x="299.30" y="470.75" width="17.20" height="2.30" rx="0.5" fill="rgb(95,95,95)" filter="url(#bt)"/>
<rect x="317.70" y="470.75" width="18.40" height="2.30" rx="0.5" fill="rgb(100,100,100)" filter="url(#bt)"/>
<text x="189.75" y="246.70" font-size="7.9" text-anchor="end" font-weight="bold" fill="#000" >heme</text>
<text x="370.00" y="247.30" font-size="8.3" text-anchor="end" font-weight="bold" fill="#000" >heme</text>
<text x="188.50" y="447.90" font-size="6.9" text-anchor="end" font-weight="bold" fill="#000" >heme</text>
<text transform="translate(190.00 261.00) scale(1 1.08)" font-size="10.0" text-anchor="end" font-weight="bold" fill="#000" >HO-1</text>
<text transform="translate(190.00 272.40) scale(1 1.06)" font-size="10.2" text-anchor="end" font-weight="bold" fill="#000" >actin</text>
<text transform="translate(370.20 260.80) scale(1 1.05)" font-size="10.7" text-anchor="end" font-weight="bold" fill="#000" >L-Ft</text>
<text x="370.20" y="274.20" font-size="10.4" text-anchor="end" font-weight="bold" fill="#000" >actin</text>
<text x="187.90" y="460.40" font-size="7.9" text-anchor="end" font-weight="bold" fill="#000" >FPN</text>
<text x="188.90" y="474.80" font-size="7.9" text-anchor="end" font-weight="bold" fill="#000" >vinculin</text>
<line x1="202.60" y1="244.20" x2="204.40" y2="244.20" stroke="#333" stroke-width="1.1"/>
<line x1="219.00" y1="244.20" x2="222.20" y2="244.20" stroke="#222" stroke-width="1.1"/>
<line x1="220.60" y1="242.60" x2="220.60" y2="245.80" stroke="#222" stroke-width="1.1"/>
<line x1="236.40" y1="244.20" x2="239.60" y2="244.20" stroke="#222" stroke-width="1.1"/>
<line x1="238.00" y1="242.60" x2="238.00" y2="245.80" stroke="#222" stroke-width="1.1"/>
<line x1="252.65" y1="244.20" x2="255.85" y2="244.20" stroke="#222" stroke-width="1.1"/>
<line x1="254.25" y1="242.60" x2="254.25" y2="245.80" stroke="#222" stroke-width="1.1"/>
<line x1="270.35" y1="244.20" x2="272.15" y2="244.20" stroke="#333" stroke-width="1.1"/>
<line x1="289.40" y1="244.20" x2="292.60" y2="244.20" stroke="#222" stroke-width="1.1"/>
<line x1="291.00" y1="242.60" x2="291.00" y2="245.80" stroke="#222" stroke-width="1.1"/>
<line x1="307.15" y1="244.20" x2="310.35" y2="244.20" stroke="#222" stroke-width="1.1"/>
<line x1="308.75" y1="242.60" x2="308.75" y2="245.80" stroke="#222" stroke-width="1.1"/>
<line x1="324.65" y1="244.20" x2="327.85" y2="244.20" stroke="#222" stroke-width="1.1"/>
<line x1="326.25" y1="242.60" x2="326.25" y2="245.80" stroke="#222" stroke-width="1.1"/>
<line x1="379.70" y1="245.20" x2="381.50" y2="245.20" stroke="#333" stroke-width="1.1"/>
<line x1="394.00" y1="245.20" x2="397.20" y2="245.20" stroke="#222" stroke-width="1.1"/>
<line x1="395.60" y1="243.60" x2="395.60" y2="246.80" stroke="#222" stroke-width="1.1"/>
<line x1="411.90" y1="245.20" x2="415.10" y2="245.20" stroke="#222" stroke-width="1.1"/>
<line x1="413.50" y1="243.60" x2="413.50" y2="246.80" stroke="#222" stroke-width="1.1"/>
<line x1="427.65" y1="245.20" x2="430.85" y2="245.20" stroke="#222" stroke-width="1.1"/>
<line x1="429.25" y1="243.60" x2="429.25" y2="246.80" stroke="#222" stroke-width="1.1"/>
<line x1="447.85" y1="245.20" x2="449.65" y2="245.20" stroke="#333" stroke-width="1.1"/>
<line x1="465.65" y1="245.20" x2="468.85" y2="245.20" stroke="#222" stroke-width="1.1"/>
<line x1="467.25" y1="243.60" x2="467.25" y2="246.80" stroke="#222" stroke-width="1.1"/>
<line x1="484.15" y1="245.20" x2="487.35" y2="245.20" stroke="#222" stroke-width="1.1"/>
<line x1="485.75" y1="243.60" x2="485.75" y2="246.80" stroke="#222" stroke-width="1.1"/>
<line x1="504.15" y1="245.20" x2="507.35" y2="245.20" stroke="#222" stroke-width="1.1"/>
<line x1="505.75" y1="243.60" x2="505.75" y2="246.80" stroke="#222" stroke-width="1.1"/>
<line x1="202.00" y1="444.20" x2="203.80" y2="444.20" stroke="#333" stroke-width="1.1"/>
<line x1="217.15" y1="444.20" x2="220.35" y2="444.20" stroke="#222" stroke-width="1.1"/>
<line x1="218.75" y1="442.60" x2="218.75" y2="445.80" stroke="#222" stroke-width="1.1"/>
<line x1="235.90" y1="444.20" x2="239.10" y2="444.20" stroke="#222" stroke-width="1.1"/>
<line x1="237.50" y1="442.60" x2="237.50" y2="445.80" stroke="#222" stroke-width="1.1"/>
<line x1="251.65" y1="444.20" x2="254.85" y2="444.20" stroke="#222" stroke-width="1.1"/>
<line x1="253.25" y1="442.60" x2="253.25" y2="445.80" stroke="#222" stroke-width="1.1"/>
<line x1="270.35" y1="444.20" x2="272.15" y2="444.20" stroke="#333" stroke-width="1.1"/>
<line x1="286.70" y1="444.20" x2="289.90" y2="444.20" stroke="#222" stroke-width="1.1"/>
<line x1="288.30" y1="442.60" x2="288.30" y2="445.80" stroke="#222" stroke-width="1.1"/>
<line x1="304.90" y1="444.20" x2="308.10" y2="444.20" stroke="#222" stroke-width="1.1"/>
<line x1="306.50" y1="442.60" x2="306.50" y2="445.80" stroke="#222" stroke-width="1.1"/>
<line x1="322.80" y1="444.20" x2="326.00" y2="444.20" stroke="#222" stroke-width="1.1"/>
<line x1="324.40" y1="442.60" x2="324.40" y2="445.80" stroke="#222" stroke-width="1.1"/>
<text x="230.65" y="236.70" font-size="10.1" text-anchor="middle" font-weight="bold" fill="#000" >Wt</text>
<text x="300.40" y="236.70" font-size="10.1" text-anchor="middle" font-weight="bold" fill="#000" >Hx-/-</text>
<text x="407.50" y="236.80" font-size="10.1" text-anchor="middle" font-weight="bold" fill="#000" >Wt</text>
<text x="477.50" y="236.80" font-size="10.1" text-anchor="middle" font-weight="bold" fill="#000" >Hx-/-</text>
<text x="229.85" y="436.70" font-size="10.1" text-anchor="middle" font-weight="bold" fill="#000" >Wt</text>
<text x="297.30" y="436.80" font-size="10" text-anchor="middle" font-weight="bold" fill="#000" >Hx-/-</text>
<line x1="195.40" y1="239.30" x2="263.50" y2="239.30" stroke="#666" stroke-width="1.6"/>
<line x1="266.50" y1="239.30" x2="334.50" y2="239.30" stroke="#666" stroke-width="1.6"/>
<line x1="374.75" y1="240.30" x2="438.75" y2="240.30" stroke="#666" stroke-width="1.6"/>
<line x1="443.50" y1="240.30" x2="514.25" y2="240.30" stroke="#666" stroke-width="1.6"/>
<line x1="193.50" y1="438.90" x2="261.80" y2="438.90" stroke="#666" stroke-width="1.6"/>
<line x1="264.60" y1="439.20" x2="333.00" y2="439.20" stroke="#666" stroke-width="1.6"/>
</g>
</svg>
</body></html>
